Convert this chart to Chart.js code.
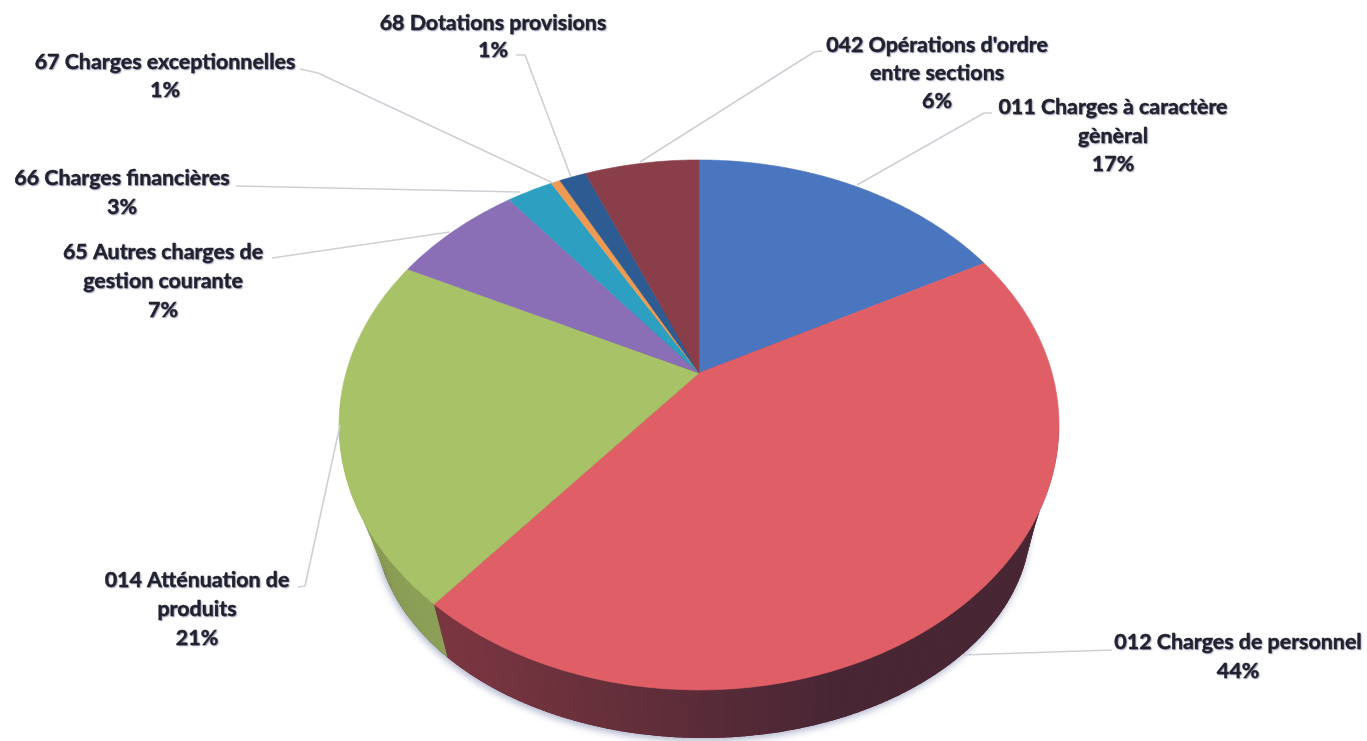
<!DOCTYPE html>
<html><head><meta charset="utf-8">
<style>html,body{margin:0;padding:0;background:#fff}#w{width:1367px;height:741px;position:relative}</style>
<script src="https://cdn.jsdelivr.net/npm/chart.js@4"></script>
</head><body><div id="w"><canvas id="c" width="1367" height="741"></canvas></div>
<script>
const categories = [
  ['011 Charges à caractère','gènèral'],
  ['012 Charges de personnel'],
  ['014 Atténuation de','produits'],
  ['65 Autres charges de','gestion courante'],
  ['66 Charges financières'],
  ['67 Charges exceptionnelles'],
  ['68 Dotations provisions'],
  ["042 Opérations d'ordre",'entre sections']
];
const values = [17.2, 43.8, 21.3, 7.05, 2.5, 0.5, 1.45, 6.2];
const percentLabels = ['17%','44%','21%','7%','3%','1%','1%','6%'];
const sliceColors = ['#4a75bf','#e05f66','#a7c267','#8a6fb7','#2d9fc0','#ef9a52','#2c5c92','#8a3e49'];
const sideColors  = ['#2c4672','#6a2c38','#8c9f56','#524270','#1b5f73','#8f5c31','#1a3757','#532529'];

// Label placement: centre x, first baseline y, line step, leader polyline
const labelLayout = [
  {x:1113,y:114,step:28.5,line:[[992,113],[984,113],[857,185]]},
  {x:1238,y:649,step:29,line:[[1112,650],[962,655]]},
  {x:197,y:587,step:29,line:[[298,587],[305,586],[340,425]]},
  {x:163,y:259,step:29,line:[[272,258],[450,232]]},
  {x:122,y:185,step:29,line:[[236,186],[520,192]]},
  {x:165,y:69,step:28,line:[[300,69],[318,73],[553,183]]},
  {x:493,y:30,step:27,line:[[516,55],[525,55],[571,177]]},
  {x:937,y:52,step:28,line:[[822,51],[814,52],[640,162]]}
];
// Perspective of the pie's top face
const persp = {cx:699, cy:373, a:353, b:254.8, k:-0.196};
// Lower rim ellipse of the side wall
const rim = {x:703, y:522, rx:328, ry:216, fx:0.96};

function project(angle, r){
  const X = r*Math.cos(angle), Y = r*Math.sin(angle), d = 1 + persp.k*Y;
  return [persp.cx + persp.a*X/d, persp.cy + persp.b*Y/d];
}
function lower(p){
  let dx=(p[0]-700)*rim.fx;
  dx=Math.max(-rim.rx,Math.min(rim.rx,dx));
  return [rim.x+dx, rim.y+rim.ry*Math.sqrt(1-(dx/rim.rx)*(dx/rim.rx))];
}
function wallColor(i,t){
  if(i!==1) return sideColors[i];
  const L=[122,54,64], R=[72,38,52], m=Math.max(0,Math.min(1,(t-.15)/.55));
  return 'rgb('+L.map((v,k)=>Math.round(v+(R[k]-v)*m)).join(',')+')';
}
const pie3d = {
  id:'pie3d',
  beforeDatasetDraw(chart, args){
    const ctx = chart.ctx, arcs = chart.getDatasetMeta(args.index).data;
    ctx.save();
    ctx.save();
    ctx.shadowColor='rgba(110,120,160,.55)'; ctx.shadowBlur=7; ctx.shadowOffsetX=-1; ctx.shadowOffsetY=3;
    ctx.fillStyle='#6a2c38'; ctx.beginPath();
    ctx.ellipse(rim.x,rim.y,rim.rx,rim.ry,0,0,2*Math.PI);
    ctx.fill(); ctx.restore();
    arcs.forEach((arc,i)=>{
      const n=Math.max(2,Math.ceil((arc.endAngle-arc.startAngle)*60));
      for(let j=0;j<n;j++){
        const a0=arc.startAngle+(arc.endAngle-arc.startAngle)*j/n, a1=arc.startAngle+(arc.endAngle-arc.startAngle)*Math.min(n,j+1.2)/n;
        const p0=project(a0,1),p1=project(a1,1);
        if(p0[1]<425&&p1[1]<425) continue;
        const q0=lower(p0),q1=lower(p1);
        ctx.fillStyle=wallColor(i,(p0[0]-340)/720);
        ctx.beginPath();ctx.moveTo(p0[0],p0[1]);ctx.lineTo(p1[0],p1[1]);ctx.lineTo(q1[0],q1[1]);ctx.lineTo(q0[0],q0[1]);ctx.closePath();ctx.fill();
      }
    });
    arcs.forEach((arc,i)=>{
      const n=Math.max(4,Math.ceil((arc.endAngle-arc.startAngle)*80));
      ctx.fillStyle=sliceColors[i];
      ctx.strokeStyle=sliceColors[i]; ctx.lineWidth=.6;
      ctx.beginPath(); ctx.moveTo(persp.cx,persp.cy);
      for(let j=0;j<=n;j++){const p=project(arc.startAngle+(arc.endAngle-arc.startAngle)*j/n,1);ctx.lineTo(p[0],p[1]);}
      ctx.closePath(); ctx.fill(); ctx.stroke();
    });
    ctx.restore();
    return false;
  },
  afterDatasetsDraw(chart){
    const ctx = chart.ctx;
    ctx.save();
    ctx.strokeStyle='#cfcfd6'; ctx.lineWidth=1.6; ctx.lineJoin='round';
    labelLayout.forEach(l=>{
      ctx.beginPath(); l.line.forEach((p,i)=>i?ctx.lineTo(p[0],p[1]):ctx.moveTo(p[0],p[1])); ctx.stroke();
    });
    ctx.font='bold 21.4px Lato, "Open Sans", sans-serif';
    ctx.textAlign='center'; ctx.textBaseline='alphabetic';
    labelLayout.forEach((l,i)=>{
      const lines=categories[i].concat([percentLabels[i]]);
      lines.forEach((t,j)=>{
        const y=l.y+j*l.step;
        ctx.shadowColor='rgba(90,85,140,.7)'; ctx.shadowBlur=1.5; ctx.shadowOffsetX=1; ctx.shadowOffsetY=1;
        ctx.fillStyle='#20222c';
        ctx.fillText(t,l.x,y);
        ctx.shadowColor='transparent';
        ctx.strokeStyle='#20222c'; ctx.lineWidth=.4;
        ctx.strokeText(t,l.x,y);
      });
    });
    ctx.restore();
  }
};
new Chart(document.getElementById('c'),{
  type:'pie',
  data:{labels:categories.map(c=>c.join(' ')),datasets:[{data:values,backgroundColor:sliceColors,borderWidth:0}]},
  options:{responsive:false,animation:false,plugins:{legend:{display:false},tooltip:{enabled:false}}},
  plugins:[pie3d]
});
</script></body></html>
